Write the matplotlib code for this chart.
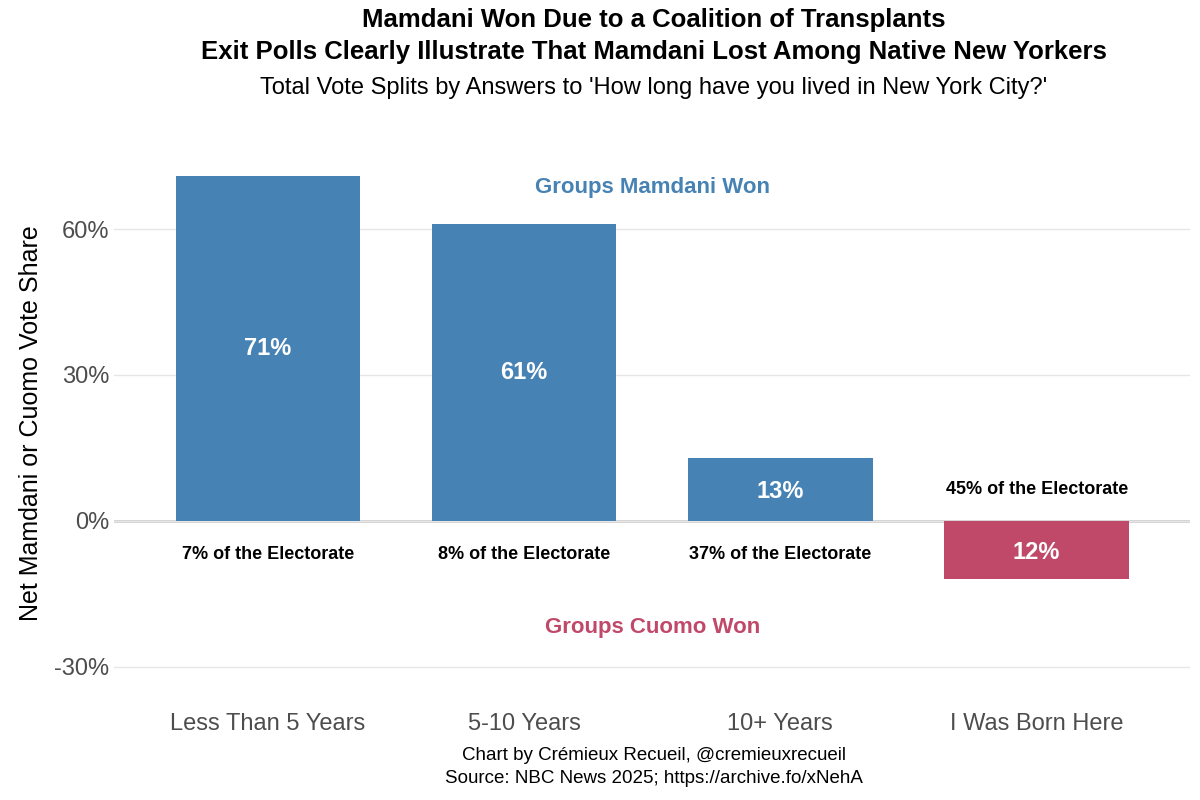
import matplotlib
matplotlib.use('Agg')
import matplotlib.pyplot as plt

categories = ['Less Than 5 Years', '5-10 Years', '10+ Years', 'I Was Born Here']
net_share = [71, 61, 13, -12]
electorate = ['7% of the Electorate', '8% of the Electorate',
              '37% of the Electorate', '45% of the Electorate']
y_ticks = [-30, 0, 30, 60]

BLUE = '#4682B4'
RED = '#C0496A'

plt.rcParams['font.family'] = ['Liberation Sans', 'DejaVu Sans']

fig = plt.figure(figsize=(12, 8), dpi=100)
ax = fig.add_axes([0.095, 0.13, 0.897, 0.681])

x = list(range(len(categories)))
colors = [BLUE if v >= 0 else RED for v in net_share]
ax.bar(x, net_share, width=0.72, color=colors, zorder=2)

for xi, v, lab in zip(x, net_share, electorate):
    ypos = v / 2 if v > 20 else v / 2 - 0.5
    ax.text(xi, ypos, f'{abs(v)}%', ha='center', va='center', color='white',
            fontsize=17, fontweight='bold', zorder=3)
    if v >= 0:
        ax.text(xi, -7, lab, ha='center', va='center', fontsize=13, fontweight='bold')
    else:
        ax.text(xi, 6.5, lab, ha='center', va='center', fontsize=13, fontweight='bold')

ax.text(1.5, 68.5, 'Groups Mamdani Won', ha='center', va='center', color=BLUE,
        fontsize=16, fontweight='bold')
ax.text(1.5, -22, 'Groups Cuomo Won', ha='center', va='center', color=RED,
        fontsize=16, fontweight='bold')

ax.axhline(0, color='#cccccc', lw=2, zorder=1)
ax.set_xlim(-0.6, 3.6)
ax.set_ylim(-36, 76)
ax.set_yticks(y_ticks)
ax.set_yticklabels([f'{t}%' for t in y_ticks])
ax.set_xticks(x)
ax.set_xticklabels(categories)
ax.tick_params(axis='both', length=0, labelsize=17, labelcolor='#4d4d4d')
ax.tick_params(axis='x', pad=12)
ax.grid(axis='y', color='#e6e6e6', lw=1, zorder=0)
for s in ax.spines.values():
    s.set_visible(False)
ax.set_ylabel('Net Mamdani or Cuomo Vote Share', fontsize=18, labelpad=8)

fig.text(0.545, 0.975, 'Mamdani Won Due to a Coalition of Transplants', ha='center',
         va='center', fontsize=18.5, fontweight='bold')
fig.text(0.545, 0.935, 'Exit Polls Clearly Illustrate That Mamdani Lost Among Native New Yorkers',
         ha='center', va='center', fontsize=18.5, fontweight='bold')
fig.text(0.545, 0.89, "Total Vote Splits by Answers to 'How long have you lived in New York City?'",
         ha='center', va='center', fontsize=17)
fig.text(0.545, 0.056, 'Chart by Crémieux Recueil, @cremieuxrecueil', ha='center',
         va='center', fontsize=13.5)
fig.text(0.545, 0.027, 'Source: NBC News 2025; https://archive.fo/xNehA', ha='center',
         va='center', fontsize=13.5)

fig.savefig('out.png', dpi=100)
